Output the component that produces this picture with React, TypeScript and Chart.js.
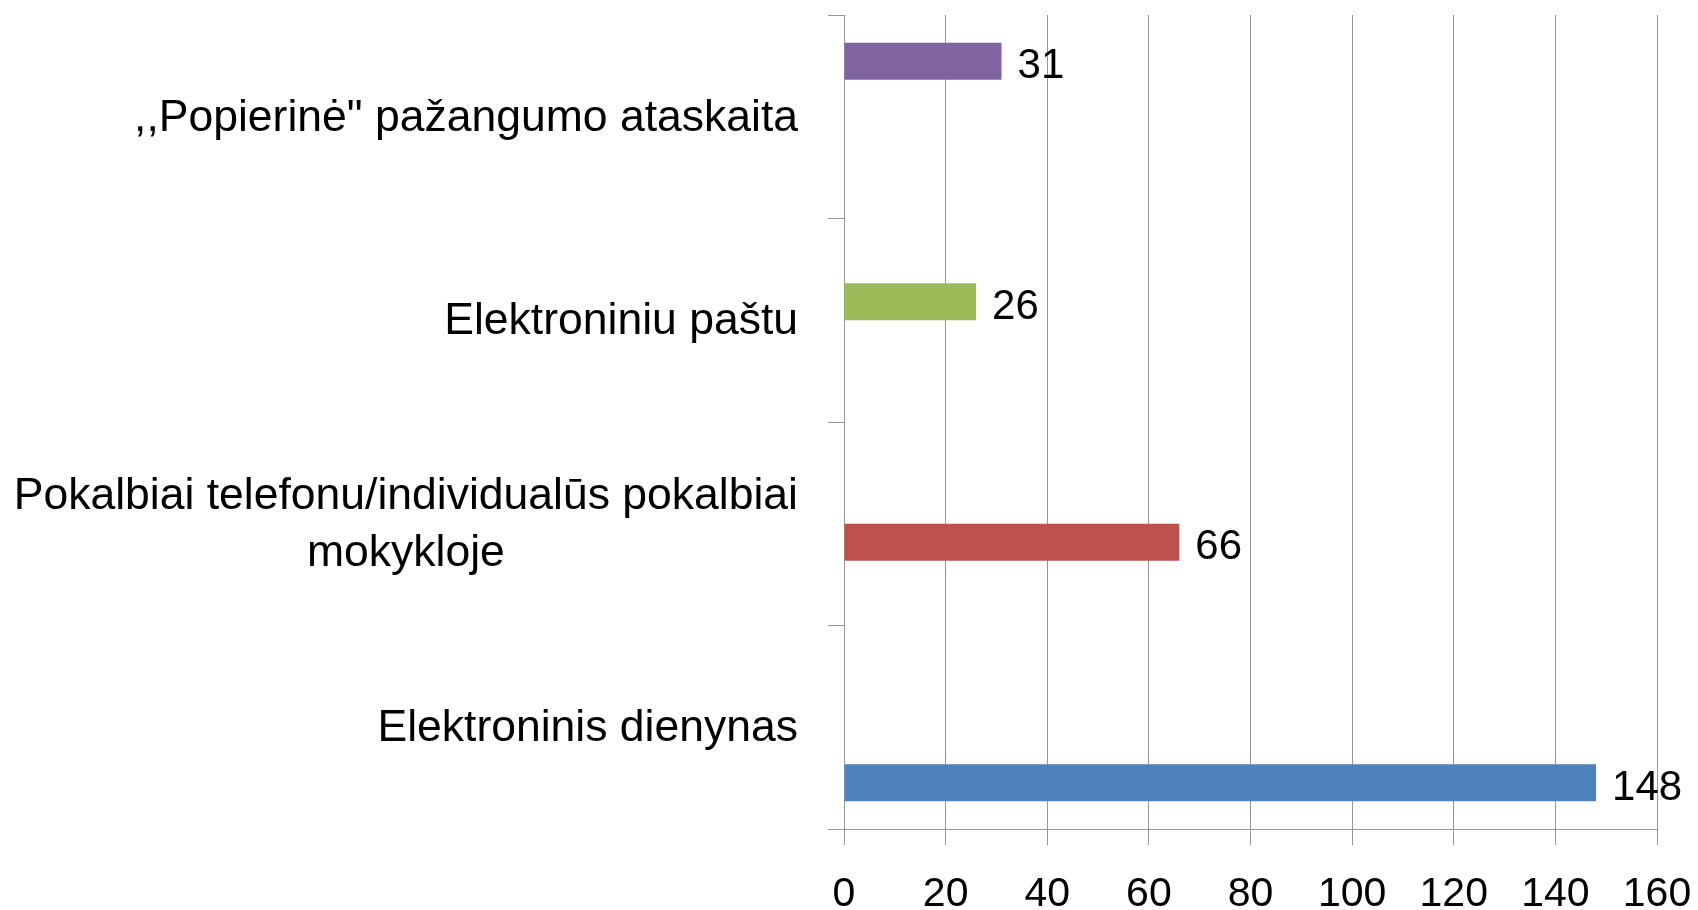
import React, { useEffect, useRef } from 'react';
import { Chart, registerables } from 'chart.js';

Chart.register(...registerables);

// Categories, top to bottom (multi-line labels are arrays of lines)
const categories: (string | string[])[] = [
  ',,Popierinė" pažangumo ataskaita',
  'Elektroniniu paštu',
  ['Pokalbiai telefonu/individualūs pokalbiai', 'mokykloje'],
  'Elektroninis dienynas',
];

// One series per category (Excel-style: each series has a single bar)
const seriesValues = [31, 26, 66, 148];
const seriesColors = ['#8064A2', '#9BBB59', '#C0504D', '#4F81BD'];

// Value axis
const xMin = 0;
const xMax = 160;
const xStep = 20;

const FONT = '"Liberation Sans", Arial, sans-serif';
const GRID = '#969696';

export default function App() {
  const ref = useRef<HTMLCanvasElement>(null);

  useEffect(() => {
    document.body.style.margin = '0';
    const canvas = ref.current;
    if (!canvas) return;

    const labelPlugin = {
      id: 'customLabels',
      afterDraw(chart: any) {
        const ctx = chart.ctx;
        const yScale = chart.scales.y;
        ctx.save();
        ctx.fillStyle = '#000';
        // category labels: block right-aligned, lines centred in block
        ctx.font = `44.5px ${FONT}`;
        ctx.textBaseline = 'alphabetic';
        ctx.textAlign = 'center';
        const rightEdge = yScale.right - 46;
        const lineH = 57;
        categories.forEach((c, i) => {
          const lines = Array.isArray(c) ? c : [c];
          const w = Math.max(...lines.map((l) => ctx.measureText(l).width));
          const cx = rightEdge - w / 2;
          const cy = yScale.getPixelForValue(i) + 14;
          lines.forEach((l, k) => {
            ctx.fillText(l, cx, cy + (k - (lines.length - 1) / 2) * lineH);
          });
        });
        // data labels
        ctx.font = `42px ${FONT}`;
        ctx.textAlign = 'left';
        chart.data.datasets.forEach((ds: any, di: number) => {
          const meta = chart.getDatasetMeta(di);
          meta.data.forEach((el: any, j: number) => {
            const v = ds.data[j];
            if (v == null) return;
            ctx.fillText(String(v), el.x + 16, el.y + 17);
          });
        });
        ctx.restore();
      },
    };

    const datasets = seriesValues.map((v, i) => ({
      label: typeof categories[i] === 'string' ? (categories[i] as string) : (categories[i] as string[]).join(' '),
      data: categories.map((_, j) => (j === i ? v : null)),
      backgroundColor: seriesColors[i],
      borderWidth: 0,
      categoryPercentage: 4 / 5.5,
      barPercentage: 1,
    }));

    const chart = new Chart(canvas, {
      type: 'bar',
      data: {
        labels: categories.map((c) => (Array.isArray(c) ? c.join(' ') : c)),
        datasets,
      },
      options: {
        indexAxis: 'y',
        animation: false,
        responsive: true,
        maintainAspectRatio: false,
        layout: { padding: { left: 828, right: 41, top: 15, bottom: 0 } },
        plugins: {
          legend: { display: false },
          tooltip: { enabled: false },
        },
        scales: {
          x: {
            min: xMin,
            max: xMax,
            afterFit(scale: any) {
              scale.height = 81;
              scale.paddingLeft = 0;
              scale.paddingRight = 0;
            },
            ticks: {
              stepSize: xStep,
              color: '#000',
              padding: 25,
              font: { family: FONT, size: 41 },
            },
            grid: {
              color: GRID,
              lineWidth: 1,
              drawTicks: true,
              tickLength: 16,
            },
            border: { color: GRID, width: 1 },
          },
          y: {
            ticks: { display: false },
            grid: {
              offset: true,
              drawOnChartArea: false,
              drawTicks: true,
              tickLength: 16,
              color: GRID,
            },
            border: { color: GRID, width: 1 },
          },
        },
      },
      plugins: [labelPlugin],
    });

    return () => chart.destroy();
  }, []);

  return (
    <div style={{ position: 'relative', width: '1698px', height: '910px' }}>
      <canvas ref={ref} style={{ display: 'block' }} />
    </div>
  );
}
